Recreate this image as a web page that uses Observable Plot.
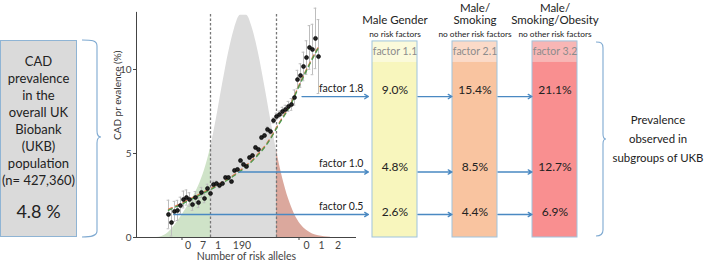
<!DOCTYPE html>
<html><head><meta charset="utf-8">
<script src="https://cdn.jsdelivr.net/npm/d3@7"></script>
<script src="https://cdn.jsdelivr.net/npm/@observablehq/plot@0.6"></script>
<style>
body{margin:0;background:#fff;font-family:Lato,"Open Sans",sans-serif;}
#wrap{position:relative;width:709px;height:261px;overflow:hidden;background:#fff}
#wrap > .plotA, #wrap > .plotB{position:absolute;top:0}
.lbox{position:absolute;left:0;top:40px;width:75px;height:195px;background:#dadada;border:1px solid #8fb4d4;text-align:center;color:#222;font-size:13px;line-height:17px}
.lbox .t{padding-top:12px}
.lbox .big{font-size:18px;margin-top:14px;line-height:17px}
.rtext{position:absolute;left:598px;top:110px;width:120px;text-align:center;font-size:11.4px;line-height:19px;color:#222;white-space:nowrap}
</style></head>
<body><div id="wrap"></div>
<script>
// ---- data ----
const alleles = [140,142,144,146,148,150,152,154,156,158,160,162,164,166,168,170,172,174,176,178,180,182,184,186,188,190,192,194,196,198,200,202,204,206,208,210,212,214,216,218,220,222,224,226,228,230,232,234,236,238,240];
const prevalence = [1.37,0.89,1.55,1.61,1.90,2.26,2.38,2.26,1.96,2.38,2.08,2.68,2.32,2.92,2.62,3.15,3.21,3.10,3.21,3.57,3.57,3.33,3.99,4.05,4.58,4.35,4.23,4.76,4.88,5.36,5.24,5.95,6.07,6.43,6.31,6.96,7.20,7.32,7.50,7.62,7.80,7.92,8.33,9.40,9.64,10.18,10.71,11.31,11.19,11.85,10.77];
const ciHalf = [0.85,0.8,0.6,0.6,0.5,0.5,0.45,0.4,0.35,0.35,0.3,0.3,0.25,0.25,0.2,0.2,0.15,0.15,0.12,0.12,0.12,0.1,0.1,0.1,0.1,0.1,0.1,0.1,0.1,0.1,0.12,0.12,0.12,0.15,0.15,0.15,0.2,0.2,0.25,0.25,0.3,0.35,0.45,0.55,0.7,0.85,1.0,1.3,1.5,1.8,2.2];
const trendAlleles = [140,148,158,168,178,188,198,206,214,222,228,234,240];
const trendPrev = [1.62,1.95,2.4,2.85,3.35,3.95,4.75,5.6,6.8,8.0,9.2,10.3,11.3];
const distAlleles = [132,136,140,144,148,152,156,160,164,168,172,176,180,184,188,192,196,200,204,208,212,216,220,224,228,232,236,240,244,248];
const distDensity = [0.0,0.08,0.3,0.7,1.2,1.75,2.35,3.05,4.0,5.3,7.1,9.1,10.97,12.43,13.23,13.23,12.43,10.97,9.09,7.08,5.18,3.56,2.30,1.39,0.79,0.43,0.21,0.10,0.045,0.02];
const cutLow = 168, cutHigh = 212;
const factorLabels = ["factor 0.5","factor 1.0","factor 1.8"];
const factorLevels = [1.37,3.9,8.39];
const factorStart = [143.5,187,229];
const xTickValues = [153,163,173,189,232,242,253];
const xTickLabels = ["0","7","1","190","0","1","2"];
const xMinorTicks = [149,227];
const yTicks = [0,5,10];

const groups = ["Male Gender","Male/Smoking","Male/Smoking/Obesity"];
const titleLine1 = ["","Male/","Male/"];
const titleLine2 = ["Male Gender","Smoking","Smoking/Obesity"];
const groupSubtitles = ["no risk factors","no other risk factors","no other risk factors"];
const groupFactors = ["factor 1.1","factor 2.1","factor 3.2"];
const boxFill = ["#f8f6bd","#f9c4a0","#f98f90"];
const headFill = ["#fbfadb","#fbdac8","#f8b6b5"];
const prevLow = ["2.6%","4.4%","6.9%"];
const prevMid = ["4.8%","8.5%","12.7%"];
const prevHigh = ["9.0%","15.4%","21.1%"];
const textLevels = [1.5,4.2,8.75];

// ---- build ----
const wrap = document.getElementById("wrap");
const yDomain = [0, 14.107];
const xDomain = [118.67, 265.33];
const arrowEnd = 273.3;
const axisTop = 13.4;
const boxTop = 11.67, headerBottom = 10.42;
const blue = "#4a89c2";
const font = "Lato, 'Open Sans', sans-serif";

const pts = alleles.map((a,i)=>({a, p: prevalence[i], e: ciHalf[i]}));
const trend = trendAlleles.map((a,i)=>({a, p: trendPrev[i]}));
const dist = distAlleles.map((a,i)=>({a, d: distDensity[i]}));
const factors = factorLabels.map((label,i)=>({label, level: factorLevels[i], start: factorStart[i]}));

const chart = Plot.plot({
  width: 370, height: 261, marginLeft: 136, marginRight: 14, marginTop: 0, marginBottom: 24,
  x: {domain: xDomain},
  y: {domain: yDomain},
  style: {background: "transparent", fontFamily: font, color: "#444"},
  marks: [
    Plot.areaY(dist.filter(d=>d.a<=cutLow), {x:"a", y:"d", fill:"#cfe3c8", curve:"monotone-x"}),
    Plot.areaY(dist.filter(d=>d.a>=cutLow && d.a<=cutHigh), {x:"a", y:"d", fill:"#dcdcdc", curve:"monotone-x"}),
    Plot.areaY(dist.filter(d=>d.a>=cutHigh), {x:"a", y:"d", fill:"#dba89d", curve:"monotone-x"}),
    Plot.ruleX([cutLow, cutHigh], {y1:()=>0, y2:()=>axisTop, stroke:"#777", strokeDasharray:"2.5,2", strokeWidth:1.3}),
    Plot.ruleX(pts, {x:"a", y1:d=>d.p-d.e, y2:d=>d.p+d.e, stroke:"#bdbdbd", strokeWidth:1}),
    Plot.ruleY(pts, {y:d=>d.p-d.e, x1:d=>d.a-0.9, x2:d=>d.a+0.9, stroke:"#bdbdbd", strokeWidth:1}),
    Plot.ruleY(pts, {y:d=>d.p+d.e, x1:d=>d.a-0.9, x2:d=>d.a+0.9, stroke:"#bdbdbd", strokeWidth:1}),
    Plot.line(trend, {x:"a", y:"p", stroke:"#e8734f", strokeWidth:1.4, strokeDasharray:"4,4", dy:-1, curve:"monotone-x"}),
    Plot.line(trend, {x:"a", y:"p", stroke:"#4f9a4f", strokeWidth:1.4, strokeDasharray:"4,4", curve:"monotone-x"}),
    Plot.dot(pts, {x:"a", y:"p", r:2, fill:"#222", stroke:"#000", strokeWidth:0.6}),
    Plot.arrow(factors, {x1:"start", x2:()=>arrowEnd, y1:"level", y2:"level", stroke:blue, strokeWidth:1.3, headLength:5}),
    Plot.text(factors, {x:()=>arrowEnd, y:"level", text:"label", textAnchor:"end", dx:-5, dy:-8, fontSize:10.5, fill:"#222"}),
    Plot.ruleY([0], {stroke:"#444"}),
    Plot.ruleX([xDomain[0]], {y1:()=>0, y2:()=>axisTop, stroke:"#444"}),
    Plot.axisY(yTicks, {tickSize:3, tickPadding:2, fontSize:10, label:null}),
    Plot.axisX(xTickValues, {tickSize:0, tickPadding:4, fontSize:10.5, tickFormat:d=>xTickLabels[xTickValues.indexOf(d)], label:"Number of risk alleles", labelAnchor:"center", labelOffset:22, labelArrow:"none"}),
    Plot.axisX(xMinorTicks, {tickSize:3, tickFormat:()=>"", label:null}),
    Plot.text(["CAD pr evalence (%)"], {frameAnchor:"left", y:()=>5.8, rotate:-90, dx:-19, fontSize:10, fill:"#333"})
  ]
});
chart.classList.add("plotA");
chart.style.left = "0px";
wrap.appendChild(chart);

const boxes = groups.map((g,i)=>({g, fill: boxFill[i], head: headFill[i], factor: groupFactors[i], line1: titleLine1[i], line2: titleLine2[i], sub: groupSubtitles[i], low: prevLow[i], mid: prevMid[i], high: prevHigh[i]}));
const links = [];
for (let i=0;i<groups.length-1;i++) for (const lv of factorLevels) links.push({from: groups[i], to: groups[i+1], level: lv});

const panel = Plot.plot({
  width: 339, height: 261, marginLeft: 1, marginRight: 131, marginTop: 0, marginBottom: 24,
  x: {domain: groups, type:"band", paddingInner:0.44, paddingOuter:0, axis:null},
  y: {domain: yDomain, axis:null},
  color: {type:"identity"},
  style: {background:"transparent", fontFamily: font, color:"#222", overflow:"visible"},
  marks: [
    Plot.barY(boxes, {x:"g", y1:()=>0, y2:()=>boxTop, fill:"fill"}),
    Plot.barY(boxes, {x:"g", y1:()=>headerBottom, y2:()=>boxTop, fill:"head"}),
    Plot.barY(boxes, {x:"g", y1:()=>0, y2:()=>boxTop, fill:"none", stroke:"#9fc4de", strokeWidth:1}),
    Plot.text(boxes, {x:"g", y:()=>(headerBottom+boxTop)/2, text:"factor", fill:"#8c8c8c", fontSize:10.5}),
    Plot.text(boxes, {x:"g", y:()=>textLevels[0], text:"low", fontSize:12, fill:"#222"}),
    Plot.text(boxes, {x:"g", y:()=>textLevels[1], text:"mid", fontSize:12, fill:"#222"}),
    Plot.text(boxes, {x:"g", y:()=>textLevels[2], text:"high", fontSize:12, fill:"#222"}),
    Plot.arrow(links, {x1:"from", x2:"to", y1:"level", y2:"level", insetStart:23, insetEnd:23, stroke:blue, strokeWidth:1.3, headLength:5}),
    Plot.text(boxes, {x:"g", y:()=>13.66, text:"line1", fontSize:11.5, fill:"#222"}),
    Plot.text(boxes, {x:"g", y:()=>12.92, text:"line2", fontSize:11.5, fill:"#222"}),
    Plot.text(boxes, {x:"g", y:()=>12.12, text:"sub", fontSize:8.3, fill:"#222"})
  ]
});
panel.classList.add("plotB");
panel.style.left = "370px";
wrap.appendChild(panel);

// left summary box, right note and braces (annotation)
const lbox = document.createElement("div");
lbox.className = "lbox";
lbox.innerHTML = '<div class="t">CAD<br>prevalence<br>in the<br>overall UK<br>Biobank<br>(UKB)<br>population<br>(n= 427,360)</div><div class="big">4.8 %</div>';
wrap.appendChild(lbox);

const rtext = document.createElement("div");
rtext.className = "rtext";
rtext.innerHTML = "Prevalence<br>observed in<br>subgroups of UKB";
wrap.appendChild(rtext);

const ns = "http://www.w3.org/2000/svg";
const deco = document.createElementNS(ns, "svg");
deco.setAttribute("width", 709); deco.setAttribute("height", 261);
deco.style.position = "absolute"; deco.style.left = "0"; deco.style.top = "0"; deco.style.pointerEvents = "none";
const braces = [
  "M82,40 C91,40 97,40 97,46 L97,131 C97,135 98,137 101,137 C98,137 97,139 97,143 L97,231 C97,236 91,237 82,237",
  "M596,42 C601,42 603,43 603,48 L603,134 C603,137 604,139 606,139 C604,139 603,141 603,144 L603,230 C603,234 601,236 596,236"
];
for (const d of braces) {
  const p = document.createElementNS(ns, "path");
  p.setAttribute("d", d); p.setAttribute("fill", "none"); p.setAttribute("stroke", "#7ea9d1"); p.setAttribute("stroke-width", "1.1");
  deco.appendChild(p);
}
wrap.appendChild(deco);
</script>
</body></html>
